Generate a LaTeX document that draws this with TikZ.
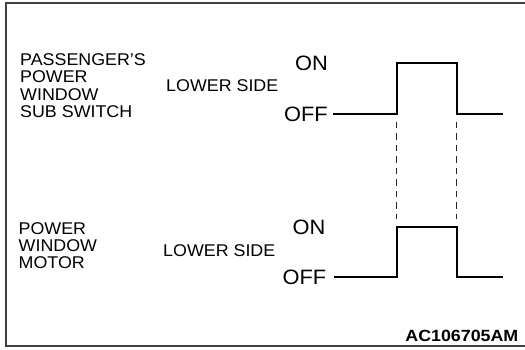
\documentclass[tikz,border=0pt]{standalone}
\usepackage{fontspec}
\setmainfont{Liberation Sans}[FakeStretch=1.05]
\newfontfamily\idfont{Liberation Sans}[FakeStretch=1.1]
\begin{document}
\begin{tikzpicture}[x=1pt,y=-1pt,
  label/.style={inner sep=0pt,align=left,font=\fontsize{17}{17.2}\selectfont},
  level/.style={inner sep=0pt,font=\fontsize{20.8}{22}\selectfont},
  signal/.style={line width=2pt,line join=miter},
  guide/.style={line width=1.1pt,dash pattern=on 6.5pt off 5pt,black!85},
  frame/.style={line width=2pt,black!75}]
\useasboundingbox (0,0) rectangle (525,349);

% outer frame (open on the right)
\draw[frame] (525,2.5) -| (6.2,345.8) -- (525,345.8);

% upper trace: passenger's power window sub switch
\node[label,anchor=west] (swname) at (20,85.6) {PASSENGER{\char39}S\\POWER\\WINDOW\\SUB SWITCH};
\node[label,anchor=west] (swside) at (166,86) {LOWER SIDE};
\node[level,anchor=east] (swon)  at (328,63.5) {ON};
\node[level,anchor=east] (swoff) at (328,114) {OFF};
\coordinate (s0) at (333.3,114);
\coordinate (s1) at (396.5,114);
\coordinate (s2) at (396.5,62.5);
\coordinate (s3) at (456.5,62.5);
\coordinate (s4) at (456.5,114);
\coordinate (s5) at (503,114);
\draw[signal] (s0) -- (s1) -- (s2) -- (s3) -- (s4) -- (s5);

% lower trace: power window motor
\node[label,anchor=west] (mtname) at (18.5,245.5) {POWER\\WINDOW\\MOTOR};
\node[label,anchor=west] (mtside) at (163,251) {LOWER SIDE};
\node[level,anchor=east] (mton)  at (325.5,227) {ON};
\node[level,anchor=east] (mtoff) at (326.5,277) {OFF};
\coordinate (m0) at (333.5,277);
\coordinate (m1) at (396.5,277);
\coordinate (m2) at (396.5,227);
\coordinate (m3) at (456.5,227);
\coordinate (m4) at (456.5,277);
\coordinate (m5) at (503,277);
\draw[signal] (m0) -- (m1) -- (m2) -- (m3) -- (m4) -- (m5);

% timing guides between the two traces
\coordinate (g1a) at (396.5,121.5);
\coordinate (g1b) at (396.5,219);
\coordinate (g2a) at (456.5,121.5);
\coordinate (g2b) at (456.5,219);
\draw[guide] (g1a) -- (g1b);
\draw[guide] (g2a) -- (g2b);

% figure code
\node[inner sep=0pt,anchor=base east,font=\idfont\bfseries\fontsize{16.2}{17}\selectfont] (figid) at (518.5,341.7) {AC106705AM};
\end{tikzpicture}
\end{document}
